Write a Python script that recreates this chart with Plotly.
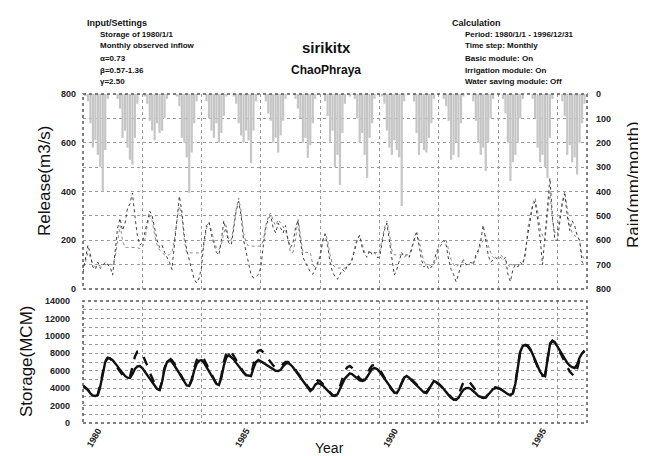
import plotly.graph_objects as go

# ---------------- data ----------------
start_year = 1980
n_years = 17
year_ticks = [1980, 1985, 1990, 1995]
grid_years = [1980, 1982, 1984, 1986, 1988, 1990, 1992, 1994, 1996]

rain = [
    0, 5, 30, 120, 220, 190, 250, 300, 400, 230, 20, 0,      # 1980
    0, 0, 20, 60, 180, 150, 220, 270, 290, 180, 40, 0,       # 1981
    0, 10, 40, 110, 150, 190, 120, 160, 150, 100, 20, 0,     # 1982
    0, 0, 10, 50, 180, 200, 260, 405, 240, 120, 30, 0,       # 1983
    0, 0, 30, 100, 150, 180, 120, 200, 160, 90, 10, 0,       # 1984
    0, 10, 40, 120, 170, 200, 150, 190, 283, 150, 30, 0,     # 1985
    0, 0, 30, 80, 110, 200, 180, 240, 170, 110, 20, 0,       # 1986
    0, 0, 20, 60, 100, 200, 180, 262, 210, 120, 20, 0,       # 1987
    0, 0, 30, 90, 200, 150, 300, 250, 373, 160, 40, 0,       # 1988
    10, 0, 20, 100, 200, 160, 250, 344, 180, 120, 20, 0,     # 1989
    0, 10, 40, 150, 220, 250, 190, 230, 260, 460, 30, 0,     # 1990
    0, 0, 30, 160, 250, 200, 230, 240, 180, 120, 20, 0,      # 1991
    0, 0, 20, 50, 110, 270, 250, 200, 260, 120, 10, 0,       # 1992
    0, 0, 30, 110, 200, 250, 220, 316, 200, 100, 20, 0,      # 1993
    0, 0, 20, 80, 200, 357, 280, 250, 200, 100, 20, 0,       # 1994
    0, 0, 20, 100, 220, 280, 250, 300, 345, 180, 20, 0,      # 1995
    0, 0, 30, 90, 250, 210, 280, 260, 330, 200, 120, 40,     # 1996
]

release_sim = [
    90, 110, 150, 130, 100, 90, 100, 95, 100, 100, 100, 100,
    100, 130, 200, 260, 200, 170, 170, 170, 170, 170, 170, 165,
    170, 200, 260, 300, 280, 220, 180, 160, 150, 140, 140, 140,
    150, 200, 280, 340, 300, 200, 150, 148, 148, 148, 148, 148,
    148, 180, 250, 270, 240, 200, 170, 160, 180, 230, 260, 200,
    200, 260, 330, 373, 320, 230, 190, 176, 176, 176, 176, 176,
    176, 200, 260, 300, 312, 280, 260, 285, 270, 250, 240, 200,
    150, 150, 200, 290, 220, 150, 150, 150, 150, 100, 90, 100,
    150, 190, 230, 200, 140, 100, 90, 86, 86, 86, 86, 90,
    100, 130, 170, 210, 220, 180, 150, 150, 150, 150, 150, 150,
    150, 200, 250, 280, 230, 160, 140, 140, 140, 140, 140, 140,
    140, 170, 210, 238, 200, 150, 110, 100, 100, 95, 100, 120,
    180, 190, 200, 200, 160, 120, 100, 90, 100, 110, 110, 100,
    100, 100, 110, 130, 150, 180, 200, 220, 180, 150, 130, 120,
    130, 140, 130, 120, 100, 90, 100, 100, 100, 100, 110, 130,
    250, 300, 350, 373, 320, 250, 220, 200, 300, 400, 280, 230,
    240, 300, 360, 400, 330, 260, 230, 220, 210, 200, 140, 120,
]

release_obs = [
    70, 120, 180, 140, 90, 80, 110, 85, 95, 110, 100, 90,
    57, 150, 250, 290, 240, 270, 330, 350, 394, 300, 220, 180,
    190, 230, 280, 320, 300, 250, 200, 170, 180, 150, 130, 110,
    80, 180, 300, 381, 320, 220, 160, 120, 80, 40, 25, 45,
    90, 200, 260, 275, 220, 180, 150, 140, 200, 280, 240, 190,
    180, 250, 320, 360, 300, 200, 150, 110, 60, 45, 50, 60,
    90, 180, 250, 290, 300, 250, 230, 270, 250, 230, 260, 200,
    170, 190, 250, 280, 200, 130, 110, 90, 70, 60, 80, 110,
    130, 200, 225, 180, 110, 70, 50, 40, 60, 80, 70, 100,
    100, 120, 160, 200, 220, 170, 140, 130, 160, 140, 150, 130,
    130, 180, 240, 270, 200, 120, 57, 80, 120, 150, 130, 140,
    130, 160, 200, 230, 180, 120, 90, 100, 80, 90, 110, 150,
    170, 180, 200, 180, 120, 80, 60, 30, 60, 100, 120, 100,
    100, 110, 100, 140, 160, 200, 262, 200, 140, 110, 120, 130,
    120, 130, 120, 130, 60, 30, 80, 100, 90, 110, 100, 150,
    220, 280, 340, 360, 280, 210, 100, 230, 350, 455, 300, 200,
    200, 280, 350, 390, 300, 240, 280, 260, 220, 200, 110, 100,
]

storage_sim = [
    4300, 4100, 3800, 3400, 3150, 3100, 3200, 4200, 5800, 7000, 7450, 7400,
    7200, 6900, 6500, 6100, 5700, 5400, 5200, 5160, 5600, 6200, 6500, 6540,
    6300, 5900, 5500, 5000, 4600, 4200, 3900, 3790, 4700, 6200, 7000, 7230,
    7000, 6600, 6200, 5700, 5200, 4700, 4300, 4250, 4900, 6000, 6800, 7150,
    7230, 6900, 6400, 5900, 5400, 4900, 4500, 4360, 5200, 6600, 7500, 7800,
    7600, 7300, 6900, 6500, 6100, 5800, 5500, 5400, 5390, 6300, 7000, 7230,
    7100, 6900, 6700, 6500, 6300, 6100, 6000, 5970, 6100, 6500, 6800, 6890,
    6700, 6400, 6000, 5600, 5200, 4800, 4400, 4000, 3670, 3900, 4400, 4590,
    4500, 4300, 4000, 3700, 3400, 3150, 3100, 3300, 3900, 4600, 5100, 5400,
    5700, 5600, 5400, 5100, 4900, 4820, 4900, 5300, 5800, 6200, 6300, 6200,
    5900, 5500, 5100, 4600, 4200, 3800, 3500, 3440, 3900, 4600, 5200, 5390,
    5200, 4900, 4600, 4300, 4000, 3700, 3500, 3440, 3900, 4500, 4820, 4700,
    4500, 4200, 3900, 3500, 3200, 2900, 2700, 2640, 2900, 3400, 3800, 4000,
    4020, 3900, 3700, 3400, 3100, 2950, 2870, 2900, 3200, 3600, 3900, 4000,
    4020, 3900, 3700, 3500, 3300, 3210, 3400, 4500, 6500, 8200, 8840, 8950,
    8900, 8500, 7900, 7200, 6500, 5900, 5500, 5390, 7200, 9000, 9410, 9200,
    8800, 8300, 7800, 7300, 6900, 6600, 6400, 6310, 6700, 7500, 8000, 8260,
]

storage_obs = [
    4300, 4100, 3800, 3400, 3150, 3100, 3300, 4400, 5900, 7100, 7500, 7400,
    7100, 6700, 6300, 5900, 5500, 5250, 5150, 5300, 6300, 7600, 8200, 8260,
    7900, 7300, 6600, 5800, 5100, 4400, 3900, 3790, 4800, 6300, 7200, 7460,
    7200, 6800, 6300, 5800, 5200, 4700, 4300, 4250, 5000, 6300, 7200, 7600,
    7690, 7300, 6700, 6100, 5500, 4900, 4500, 4360, 5400, 7000, 8000, 8380,
    8100, 7700, 7200, 6700, 6200, 5800, 5500, 5400, 5500, 6800, 7900, 8300,
    8380, 8100, 7700, 7300, 6900, 6600, 6400, 6310, 6400, 6800, 7000, 7000,
    6800, 6500, 6100, 5700, 5300, 4900, 4500, 4100, 3800, 4000, 4600, 4900,
    4800, 4500, 4200, 3800, 3500, 3200, 3150, 3400, 4200, 5200, 6000, 6400,
    6540, 6300, 5900, 5500, 5100, 4900, 5000, 5500, 6200, 6600, 6660, 6500,
    6200, 5700, 5200, 4700, 4200, 3800, 3500, 3440, 3900, 4600, 5200, 5400,
    5300, 5000, 4700, 4400, 4100, 3800, 3600, 3500, 3900, 4500, 4700, 4600,
    4500, 4200, 3900, 3500, 3200, 2900, 2700, 2700, 3200, 4000, 4700, 4930,
    4800, 4500, 4100, 3700, 3300, 3000, 2900, 2950, 3300, 3700, 4000, 4100,
    4000, 3900, 3700, 3500, 3300, 3210, 3400, 4600, 6600, 8300, 8900, 8950,
    8800, 8400, 7800, 7100, 6400, 5800, 5400, 5390, 7300, 9100, 9450, 9250,
    8700, 8200, 7600, 7000, 6400, 5900, 5600, 5390, 6200, 7300, 8000, 8300,
]

left_lines = ["Storage of 1980/1/1", "Monthly observed inflow",
              "α=0.73", "β=0.57-1.36", "γ=2.50"]
right_lines = ["Period: 1980/1/1 - 1996/12/31", "Time step: Monthly",
               "Basic module: On", "Irrigation module: On",
               "Water saving module: Off"]

# month positions in decimal years
t = [start_year + i / 12 for i in range(len(rain))]

FONT = "Liberation Sans, Arial, sans-serif"
GRID = dict(showgrid=True, gridcolor="#9a9a9a", griddash="dot", gridwidth=1)

fig = go.Figure()

fig.add_trace(go.Bar(x=t, y=rain, xaxis="x", yaxis="y", name="Rain",
                     marker=dict(color="#bdbdbd", line=dict(width=0),
                                 pattern=dict(shape=".", fgcolor="#8c8c8c",
                                              bgcolor="#d6d6d6", size=2,
                                              solidity=0.5)),
                     showlegend=False))
fig.add_trace(go.Scatter(x=t, y=release_sim, xaxis="x", yaxis="y2",
                         mode="lines", line=dict(color="#8a8a8a", width=1, dash="dot"),
                         showlegend=False))
fig.add_trace(go.Scatter(x=t, y=release_obs, xaxis="x", yaxis="y2",
                         mode="lines", line=dict(color="#404040", width=1, dash="dot"),
                         showlegend=False))
fig.add_trace(go.Scatter(x=t, y=storage_obs, xaxis="x2", yaxis="y3",
                         mode="lines", line=dict(color="#111", width=2.4, dash="dash"),
                         showlegend=False))
fig.add_trace(go.Scatter(x=t, y=storage_sim, xaxis="x2", yaxis="y3",
                         mode="lines", line=dict(color="#111", width=2.4),
                         showlegend=False))

tickfont = dict(family=FONT, size=9, color="#222", weight="bold")
xr = [start_year, start_year + n_years]
minor_x = dict(tickvals=grid_years, showgrid=True, gridcolor="#9a9a9a",
               griddash="dot", gridwidth=1, ticks="")

fig.update_layout(
    width=646, height=456,
    margin=dict(l=75, r=67, t=86, b=41),
    paper_bgcolor="white", plot_bgcolor="white",
    bargap=0.1,
    xaxis=dict(domain=[0, 1], anchor="y", range=xr, showticklabels=False,
               tickvals=[y + 0.5 for y in year_ticks], showgrid=False,
               minor=minor_x, zeroline=False, showline=False, automargin=False),
    xaxis2=dict(domain=[0, 1], anchor="y3", range=xr, matches="x",
                tickmode="array", tickvals=[y + 0.5 for y in year_ticks],
                ticktext=[str(y) for y in year_ticks], tickangle=-60,
                tickfont=tickfont, showgrid=False, ticks="",
                minor=minor_x, zeroline=False, showline=False, automargin=False),
    yaxis=dict(domain=[0.4073, 1], anchor="x", side="right", range=[800, 0],
               tickmode="linear", tick0=0, dtick=100, tickfont=tickfont,
               ticks="", ticklabelstandoff=8, zeroline=False, showline=False,
               automargin=False, **GRID),
    yaxis2=dict(overlaying="y", anchor="x", side="left", range=[0, 800],
                tickmode="linear", tick0=0, dtick=200, tickfont=tickfont,
                ticks="", ticklabelstandoff=6, showgrid=False, zeroline=False,
                showline=False, automargin=False),
    yaxis3=dict(domain=[0, 0.3708], anchor="x2", range=[0, 14000],
                tickmode="linear", tick0=0, dtick=2000, tickformat="d",
                tickfont=tickfont, ticks="", ticklabelstandoff=12,
                zeroline=False, showline=False, automargin=False,
                minor=dict(dtick=1000, showgrid=True, gridcolor="#9a9a9a",
                           griddash="dot", gridwidth=1), **GRID),
)

# dotted panel frames
for xr_, yr_ in [("x domain", "y domain"), ("x2 domain", "y3 domain")]:
    fig.add_shape(type="rect", xref=xr_, yref=yr_, x0=0, x1=1, y0=0, y1=1,
                  line=dict(color="#555", width=1.5, dash="dot"), layer="above")

PL, PR, PT, PB = 75, 579, 86, 415


def px(xp):
    return (xp - PL) / (PR - PL)


def py(yp):
    return (PB - yp) / (PB - PT)


ann = []
ann.append(dict(text="sirikitx", x=px(318), y=py(40), font=dict(family=FONT, size=15, color="#111", weight="bold")))
ann.append(dict(text="ChaoPhraya", x=px(318), y=py(62), font=dict(family=FONT, size=12, color="#111", weight="bold")))
ann.append(dict(text="Release(m3/s)", x=px(36), y=py(173), textangle=-90,
                font=dict(family=FONT, size=17, color="#111")))
ann.append(dict(text="Storage(MCM)", x=px(18), y=py(354), textangle=-90,
                font=dict(family=FONT, size=17, color="#111")))
ann.append(dict(text="Rain(mm/month)", x=px(625), y=py(177), textangle=-90,
                font=dict(family=FONT, size=17, color="#111")))
ann.append(dict(text="Year", x=px(321), y=py(440),
                font=dict(family=FONT, size=14, color="#111")))
ann.append(dict(text="Input/Settings", x=px(77), y=py(15), xanchor="left",
                font=dict(family=FONT, size=9, color="#111", weight="bold")))
ann.append(dict(text="Calculation", x=px(442), y=py(15), xanchor="left",
                font=dict(family=FONT, size=9, color="#111", weight="bold")))
line_y = [26, 38, 50, 62, 73]
for s, yy in zip(left_lines, line_y):
    ann.append(dict(text=s, x=px(90), y=py(yy), xanchor="left",
                    font=dict(family=FONT, size=8, color="#111", weight="bold")))
for s, yy in zip(right_lines, line_y):
    ann.append(dict(text=s, x=px(455), y=py(yy), xanchor="left",
                    font=dict(family=FONT, size=8, color="#111", weight="bold")))

for a in ann:
    a.setdefault("xanchor", "center")
    a.setdefault("yanchor", "middle")
    a.update(xref="paper", yref="paper", showarrow=False)
fig.update_layout(annotations=ann)

fig.write_html("out.html")
